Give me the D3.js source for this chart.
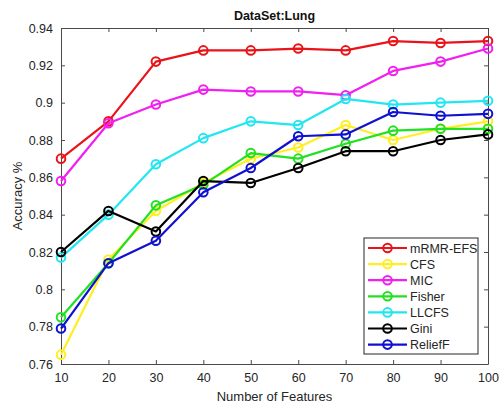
<!DOCTYPE html>
<html>
<head>
<meta charset="utf-8">
<script src="https://cdn.jsdelivr.net/npm/d3@7"></script>
<style>
body { margin: 0; background: #fff; }
text { font-family: "Liberation Sans", Arial, sans-serif; }
</style>
</head>
<body>
<div id="chart"></div>
<script>
// data
var features = [10, 20, 30, 40, 50, 60, 70, 80, 90, 100];
var seriesNames = ["mRMR-EFS", "CFS", "MIC", "Fisher", "LLCFS", "Gini", "ReliefF"];
var mrmr    = [0.870, 0.890, 0.922, 0.928, 0.928, 0.929, 0.928, 0.933, 0.932, 0.933];
var cfs     = [0.765, 0.816, 0.842, 0.857, 0.870, 0.876, 0.888, 0.880, 0.886, 0.890];
var mic     = [0.858, 0.889, 0.899, 0.907, 0.906, 0.906, 0.904, 0.917, 0.922, 0.929];
var fisher  = [0.785, 0.814, 0.845, 0.856, 0.873, 0.870, 0.878, 0.885, 0.886, 0.886];
var llcfs   = [0.817, 0.840, 0.867, 0.881, 0.890, 0.888, 0.902, 0.899, 0.900, 0.901];
var gini    = [0.820, 0.842, 0.831, 0.858, 0.857, 0.865, 0.874, 0.874, 0.880, 0.883];
var relieff = [0.779, 0.814, 0.826, 0.852, 0.865, 0.882, 0.883, 0.895, 0.893, 0.894];
var yTicks = [0.76, 0.78, 0.8, 0.82, 0.84, 0.86, 0.88, 0.9, 0.92, 0.94];

var seriesValues = [mrmr, cfs, mic, fisher, llcfs, gini, relieff];
var colors = ["#e8141a", "#ffee22", "#f020f0", "#22e022", "#22e6f0", "#000000", "#1010d0"];

var svgWidth = 499, svgHeight = 405;
var margin = {top: 28, right: 11, bottom: 41, left: 61};
var chartWidth = svgWidth - margin.left - margin.right;
var chartHeight = svgHeight - margin.top - margin.bottom;

var svg = d3.select("#chart").append("svg")
  .attr("width", svgWidth)
  .attr("height", svgHeight);

var chartGroup = svg.append("g")
  .attr("transform", `translate(${margin.left}, ${margin.top})`);

var xScale = d3.scaleLinear().domain([10, 100]).range([0, chartWidth]);
var yScale = d3.scaleLinear().domain([0.76, 0.94]).range([chartHeight, 0]);

var axisColor = "#4a4a4a";
var tickColor = "#262626";

function styleAxis(g, hideText) {
  g.select(".domain").attr("stroke", axisColor);
  g.selectAll(".tick line").attr("stroke", axisColor);
  g.selectAll(".tick text")
    .attr("fill", tickColor)
    .attr("font-size", "12.5px")
    .style("display", hideText ? "none" : null);
}

// bottom / left axes with ticks pointing inward
chartGroup.append("g")
  .attr("transform", `translate(0, ${chartHeight})`)
  .call(d3.axisBottom(xScale).tickValues(features).tickSize(-4).tickPadding(9).tickSizeOuter(0))
  .call(styleAxis, false);

chartGroup.append("g")
  .call(d3.axisLeft(yScale).tickValues(yTicks).tickFormat(d3.format("")).tickSize(-4).tickPadding(8).tickSizeOuter(0))
  .call(styleAxis, false);

// top / right box
chartGroup.append("g")
  .call(d3.axisTop(xScale).tickValues(features).tickSize(-4).tickSizeOuter(0))
  .call(styleAxis, true);

chartGroup.append("g")
  .attr("transform", `translate(${chartWidth}, 0)`)
  .call(d3.axisRight(yScale).tickValues(yTicks).tickSize(-4).tickSizeOuter(0))
  .call(styleAxis, true);

// lines + hollow circle markers
var line = d3.line()
  .x((d, i) => xScale(features[i]))
  .y(d => yScale(d));

seriesValues.forEach(function(vals, k) {
  var g = chartGroup.append("g");
  g.append("path")
    .datum(vals)
    .attr("d", line)
    .attr("fill", "none")
    .attr("stroke", colors[k])
    .attr("stroke-width", 2.2)
    .attr("stroke-linejoin", "round");
  g.selectAll("circle")
    .data(vals)
    .enter()
    .append("circle")
    .attr("cx", (d, i) => xScale(features[i]))
    .attr("cy", d => yScale(d))
    .attr("r", 4.3)
    .attr("fill", "none")
    .attr("stroke", colors[k])
    .attr("stroke-width", 2);
});

// title
svg.append("text")
  .attr("x", margin.left + chartWidth / 2)
  .attr("y", 20)
  .attr("text-anchor", "middle")
  .attr("font-size", "12.5px")
  .attr("font-weight", "bold")
  .attr("fill", "#111")
  .text("DataSet:Lung");

// x axis title
svg.append("text")
  .attr("x", margin.left + chartWidth / 2)
  .attr("y", 401)
  .attr("text-anchor", "middle")
  .attr("font-size", "13px")
  .attr("fill", tickColor)
  .text("Number of Features");

// y axis title
svg.append("text")
  .attr("transform", "rotate(-90)")
  .attr("x", -(margin.top + chartHeight / 2))
  .attr("y", 22)
  .attr("text-anchor", "middle")
  .attr("font-size", "13px")
  .attr("fill", tickColor)
  .text("Accuracy %");

// legend
var legend = svg.append("g").attr("transform", "translate(364, 238)");
legend.append("rect")
  .attr("width", 114)
  .attr("height", 116)
  .attr("fill", "#fff")
  .attr("stroke", "#262626")
  .attr("stroke-width", 1);

seriesNames.forEach(function(name, k) {
  var yy = 10 + k * 16.1;
  legend.append("line")
    .attr("x1", 4).attr("x2", 43)
    .attr("y1", yy).attr("y2", yy)
    .attr("stroke", colors[k])
    .attr("stroke-width", 2.2);
  legend.append("circle")
    .attr("cx", 23.5).attr("cy", yy)
    .attr("r", 4.3)
    .attr("fill", "none")
    .attr("stroke", colors[k])
    .attr("stroke-width", 2);
  legend.append("text")
    .attr("x", 46)
    .attr("y", yy + 4.5)
    .attr("font-size", "12.5px")
    .attr("fill", tickColor)
    .text(name);
});
</script>
</body>
</html>
